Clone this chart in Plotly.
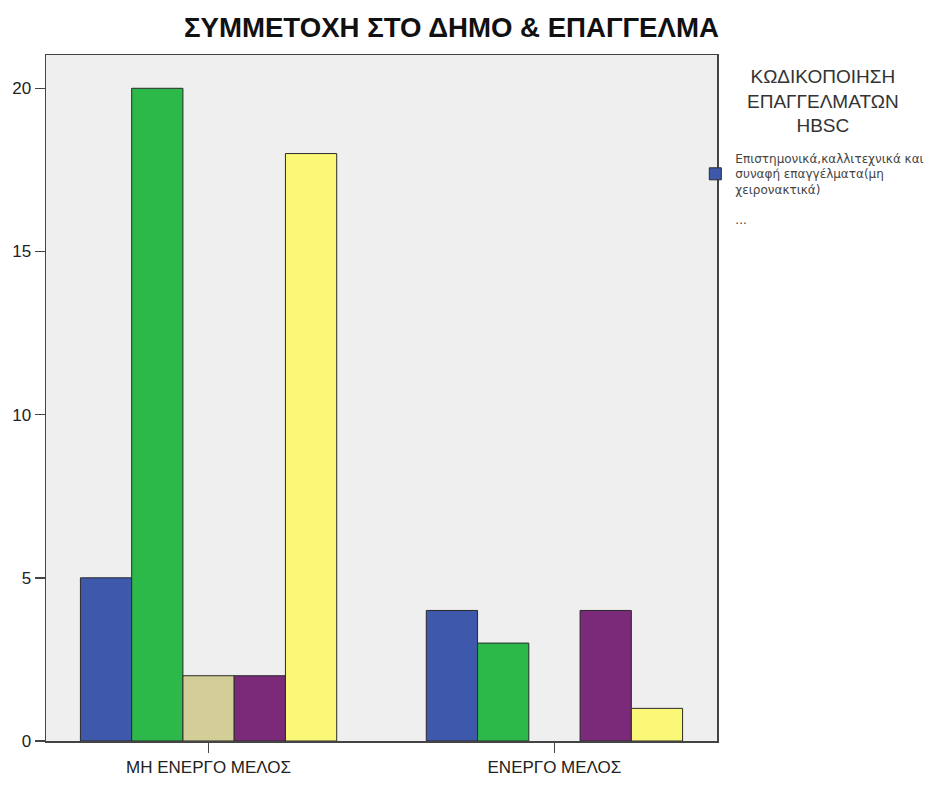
import plotly.graph_objects as go

categories = ["ΜΗ ΕΝΕΡΓΟ ΜΕΛΟΣ", "ΕΝΕΡΓΟ ΜΕΛΟΣ"]
series_names = [
    "Επιστημονικά,καλλιτεχνικά και<br>συναφή επαγγέλματα(μη<br>χειρονακτικά)",
    "s2", "s3", "s4", "s5",
]
series_values = [
    [5, 4],
    [20, 3],
    [2, None],
    [2, 4],
    [18, 1],
]
colors = ["#3E58AC", "#2DB84A", "#D3CE97", "#7B2A7A", "#FBF877"]
y_ticks = [0, 5, 10, 15, 20]
title = "ΣΥΜΜΕΤΟΧΗ ΣΤΟ ΔΗΜΟ & ΕΠΑΓΓΕΛΜΑ"
legend_title = "ΚΩΔΙΚΟΠΟΙΗΣΗ<br>ΕΠΑΓΓΕΛΜΑΤΩΝ<br>HBSC"

FONT = "Liberation Sans, Arial, sans-serif"

fig = go.Figure()
for i, (name, vals) in enumerate(zip(series_names, series_values)):
    fig.add_trace(go.Bar(
        x=categories, y=vals, name=name,
        marker=dict(color=colors[i], line=dict(color="#2a2a2a", width=1)),
        showlegend=(i == 0), legendgroup="g%d" % i,
    ))
# placeholder legend entry "..."
fig.add_trace(go.Scatter(x=[None], y=[None], name="...", mode="markers",
                         marker=dict(color="rgba(0,0,0,0)", size=1),
                         showlegend=True, legendgroup="more"))

fig.update_layout(
    width=941, height=789,
    margin=dict(l=46, r=214, t=55, b=32, pad=0),
    paper_bgcolor="white", plot_bgcolor="#EFEFEF",
    barmode="group", bargap=0.259, bargroupgap=0,
    font=dict(family=FONT, color="#222222"),
    showlegend=True, hovermode=False,
    legend=dict(x=0.9677, xanchor="left", y=0.8704, yanchor="top",
                font=dict(size=12, color="#444444", family="DejaVu Sans, sans-serif"),
                itemwidth=30, tracegroupgap=11,
                bgcolor="rgba(0,0,0,0)", traceorder="grouped"),
    annotations=[
        dict(text="<b>" + title + "</b>", x=0.604, xref="paper", y=1.0, yref="paper",
             yanchor="middle", yshift=28, showarrow=False,
             font=dict(size=27.6, family=FONT, color="#111111")),
        dict(text=legend_title, x=1.1586, xref="paper", xanchor="center",
             y=1.0, yref="paper", yanchor="top", yshift=-9, showarrow=False,
             align="center", font=dict(size=19, family=FONT, color="#333333")),
    ],
)
fig.update_xaxes(
    range=[-0.47, 1.47], showline=True, linecolor="#444444", linewidth=1.5, mirror=True,
    ticks="outside", ticklen=10, tickwidth=1.5, tickcolor="#444444", showgrid=False,
    tickfont=dict(size=17, color="#222222"),
)
fig.update_yaxes(
    range=[0, 21.02], tickvals=y_ticks, showline=True, linecolor="#444444", linewidth=1.5,
    mirror=True, ticks="outside", ticklen=10, tickwidth=1.5, tickcolor="#444444",
    showgrid=False, zeroline=False, tickfont=dict(size=17, color="#222222"),
)

fig.write_html("out.html", config={"staticPlot": True, "displayModeBar": False},
               post_script="document.body.style.margin='0';document.body.style.overflow='hidden';")
